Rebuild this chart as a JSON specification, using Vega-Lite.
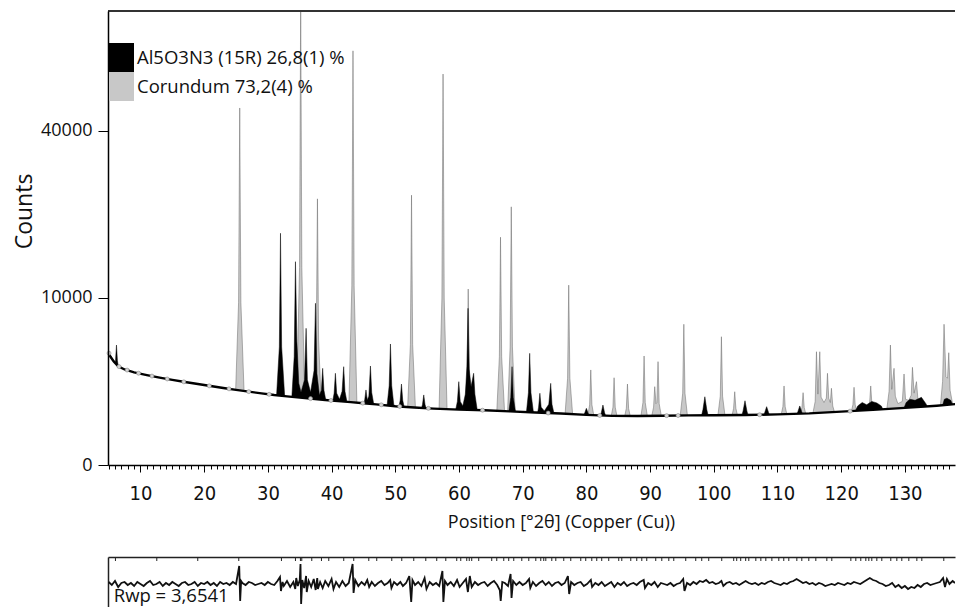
{
"$schema":"https://vega.github.io/schema/vega-lite/v6.json",
"background":"white",
"padding":{"left":13,"top":10,"right":0,"bottom":0},
"bounds":"flush",
"spacing":92,
"config":{"view":{"stroke":null},"font":"Open Sans",
"axis":{"labelFont":"Open Sans","titleFont":"Open Sans","labelColor":"#111","titleColor":"#111","titleFontWeight":"normal","domainColor":"#000","tickColor":"#000","grid":false}},
"datasets":{
"cor":[{"t":4.9,"c":0},
{"t":24.9,"c":1620},{"t":25.4,"c":9500},{"t":25.58,"c":45700},{"t":25.76,"c":9500},{"t":26.3,"c":1580},
{"t":34.5,"c":1310},{"t":34.97,"c":14000},{"t":35.15,"c":78000},{"t":35.33,"c":14000},{"t":35.8,"c":1290},
{"t":37.15,"c":1250},{"t":37.6,"c":5600},{"t":37.78,"c":25400},{"t":37.96,"c":5600},{"t":38.4,"c":1230},
{"t":42.7,"c":1130},{"t":43.18,"c":11500},{"t":43.36,"c":61500},{"t":43.54,"c":11500},{"t":44.0,"c":1110},
{"t":51.9,"c":960},{"t":52.37,"c":5200},{"t":52.55,"c":26100},{"t":52.73,"c":5200},{"t":53.2,"c":950},
{"t":56.85,"c":900},{"t":57.32,"c":10000},{"t":57.5,"c":54800},{"t":57.68,"c":10000},{"t":58.15,"c":900},
{"t":60.8,"c":870},{"t":61.27,"c":2800},{"t":61.45,"c":11100},{"t":61.63,"c":2800},{"t":62.1,"c":870},
{"t":65.9,"c":840},{"t":66.34,"c":4200},{"t":66.52,"c":18600},{"t":66.7,"c":4200},{"t":67.2,"c":835},
{"t":67.6,"c":825},{"t":68.03,"c":5000},{"t":68.21,"c":23900},{"t":68.39,"c":5000},{"t":68.85,"c":820},
{"t":76.6,"c":750},{"t":77.05,"c":2700},{"t":77.23,"c":11600},{"t":77.41,"c":2700},{"t":77.9,"c":740},
{"t":80.1,"c":715},{"t":80.51,"c":1300},{"t":80.69,"c":3240},{"t":80.87,"c":1300},{"t":81.3,"c":710},
{"t":83.75,"c":690},{"t":84.17,"c":1200},{"t":84.35,"c":2730},{"t":84.53,"c":1200},{"t":84.95,"c":690},
{"t":85.85,"c":690},{"t":86.27,"c":1150},{"t":86.45,"c":2350},{"t":86.63,"c":1150},{"t":87.05,"c":690},
{"t":88.45,"c":690},{"t":88.88,"c":1400},{"t":89.06,"c":4260},{"t":89.24,"c":1400},{"t":89.7,"c":690},
{"t":90.1,"c":695},{"t":90.55,"c":1200},{"t":90.73,"c":2200},{"t":90.93,"c":1350},{"t":91.07,"c":1400},{"t":91.25,"c":3830},{"t":91.43,"c":1350},{"t":91.9,"c":700},
{"t":94.65,"c":705},{"t":95.12,"c":1850},{"t":95.3,"c":7100},{"t":95.48,"c":1850},{"t":95.95,"c":705},
{"t":100.55,"c":710},{"t":101.02,"c":1700},{"t":101.2,"c":5900},{"t":101.38,"c":1700},{"t":101.85,"c":715},
{"t":102.7,"c":715},{"t":103.11,"c":1150},{"t":103.29,"c":1925},{"t":103.47,"c":1150},{"t":103.9,"c":715},
{"t":110.4,"c":735},{"t":110.85,"c":1220},{"t":111.03,"c":2240},{"t":111.21,"c":1220},{"t":111.65,"c":740},
{"t":113.4,"c":755},{"t":113.84,"c":1180},{"t":114.02,"c":1875},{"t":114.2,"c":1180},{"t":114.65,"c":760},
{"t":115.4,"c":770},{"t":115.92,"c":1450},{"t":116.12,"c":4600},{"t":116.35,"c":1800},{"t":116.64,"c":4600},{"t":116.85,"c":1650},{"t":117.3,"c":1400},{"t":117.67,"c":1600},{"t":117.85,"c":3015},{"t":118.05,"c":1600},{"t":118.3,"c":1400},{"t":118.47,"c":2110},{"t":118.68,"c":1250},{"t":119.2,"c":800},
{"t":121.4,"c":835},{"t":121.84,"c":1300},{"t":122.02,"c":2165},{"t":122.2,"c":1300},{"t":122.65,"c":840},
{"t":124.0,"c":860},{"t":124.46,"c":1350},{"t":124.64,"c":2240},{"t":124.82,"c":1350},{"t":125.3,"c":870},
{"t":127.05,"c":900},{"t":127.52,"c":1950},{"t":127.73,"c":5160},{"t":127.95,"c":2050},{"t":128.3,"c":3350},{"t":128.5,"c":1700},{"t":128.9,"c":1350},{"t":129.6,"c":1450},{"t":129.87,"c":2970},{"t":130.1,"c":1550},{"t":130.6,"c":1500},{"t":131.0,"c":1750},{"t":131.19,"c":3420},{"t":131.45,"c":1850},{"t":131.82,"c":2490},{"t":132.05,"c":1550},{"t":132.6,"c":960},
{"t":135.5,"c":1020},{"t":135.92,"c":2500},{"t":136.15,"c":7100},{"t":136.45,"c":2800},{"t":136.7,"c":2700},{"t":136.89,"c":4520},{"t":137.1,"c":2000},{"t":137.7,"c":1050},{"t":138,"c":0}],
"aln":[{"t":4.9,"c":0},
{"t":5.7,"c":3040},{"t":6.08,"c":3900},{"t":6.23,"c":5160},{"t":6.38,"c":3900},{"t":6.8,"c":2720},
{"t":31.3,"c":1400},{"t":31.8,"c":5000},{"t":31.98,"c":19250},{"t":32.16,"c":5000},{"t":32.7,"c":1380},
{"t":33.7,"c":1340},{"t":34.13,"c":4200},{"t":34.33,"c":14820},{"t":34.55,"c":5500},{"t":34.85,"c":2400},{"t":35.2,"c":1900},{"t":35.75,"c":2600},{"t":36.0,"c":6700},{"t":36.2,"c":2600},{"t":36.7,"c":1900},{"t":37.25,"c":3200},{"t":37.47,"c":9375},{"t":37.7,"c":3000},{"t":38.1,"c":1750},{"t":38.4,"c":2000},{"t":38.6,"c":3350},{"t":38.8,"c":2000},{"t":39.3,"c":1200},
{"t":40.0,"c":1190},{"t":40.4,"c":1850},{"t":40.6,"c":3015},{"t":40.8,"c":1850},{"t":41.25,"c":1550},{"t":41.65,"c":1950},{"t":41.9,"c":3465},{"t":42.1,"c":1950},{"t":42.6,"c":1150},
{"t":44.8,"c":1095},{"t":45.2,"c":1520},{"t":45.4,"c":2020},{"t":45.6,"c":1520},{"t":45.85,"c":1700},{"t":46.1,"c":3515},{"t":46.3,"c":1880},{"t":46.8,"c":1060},
{"t":48.6,"c":1000},{"t":49.04,"c":2250},{"t":49.24,"c":5250},{"t":49.44,"c":2250},{"t":49.9,"c":990},
{"t":50.4,"c":980},{"t":50.77,"c":1500},{"t":50.97,"c":2350},{"t":51.17,"c":1500},{"t":51.6,"c":970},
{"t":53.9,"c":930},{"t":54.27,"c":1310},{"t":54.47,"c":1760},{"t":54.67,"c":1310},{"t":55.1,"c":920},
{"t":59.3,"c":880},{"t":59.75,"c":1450},{"t":59.97,"c":2490},{"t":60.2,"c":1450},{"t":60.6,"c":1250},{"t":61.0,"c":1800},{"t":61.25,"c":3500},{"t":61.42,"c":8800},{"t":61.6,"c":3300},{"t":61.9,"c":2200},{"t":62.3,"c":3015},{"t":62.5,"c":1800},{"t":63.0,"c":870},
{"t":67.7,"c":825},{"t":68.13,"c":1640},{"t":68.33,"c":3465},{"t":68.53,"c":1640},{"t":69.0,"c":820},
{"t":70.5,"c":800},{"t":70.9,"c":1870},{"t":71.1,"c":4470},{"t":71.3,"c":1870},{"t":71.8,"c":795},
{"t":72.2,"c":790},{"t":72.5,"c":1200},{"t":72.7,"c":1845},{"t":72.9,"c":1200},{"t":73.4,"c":1050},{"t":74.1,"c":1320},{"t":74.4,"c":2390},{"t":74.6,"c":1320},{"t":75.1,"c":770},
{"t":79.3,"c":720},{"t":79.75,"c":980},{"t":80.0,"c":1150},{"t":80.25,"c":980},{"t":80.7,"c":715},
{"t":81.9,"c":700},{"t":82.35,"c":990},{"t":82.6,"c":1290},{"t":82.85,"c":990},{"t":83.3,"c":695},
{"t":97.9,"c":710},{"t":98.3,"c":1100},{"t":98.6,"c":1670},{"t":98.9,"c":1100},{"t":99.3,"c":710},
{"t":104.2,"c":720},{"t":104.6,"c":1050},{"t":104.9,"c":1480},{"t":105.2,"c":1050},{"t":105.6,"c":720},
{"t":107.6,"c":730},{"t":108.0,"c":990},{"t":108.3,"c":1220},{"t":108.6,"c":990},{"t":109.0,"c":735},
{"t":112.8,"c":755},{"t":113.2,"c":1020},{"t":113.5,"c":1250},{"t":113.8,"c":1020},{"t":114.2,"c":760},
{"t":121.8,"c":835},{"t":122.6,"c":1250},{"t":123.3,"c":1400},{"t":124.0,"c":1300},{"t":124.8,"c":1450},{"t":125.6,"c":1380},{"t":126.3,"c":1250},{"t":127.0,"c":890},
{"t":129.5,"c":935},{"t":130.2,"c":1400},{"t":130.8,"c":1550},{"t":131.6,"c":1500},{"t":132.6,"c":1640},{"t":133.3,"c":1350},{"t":134.0,"c":1000},
{"t":135.6,"c":1010},{"t":136.2,"c":1550},{"t":136.6,"c":1600},{"t":137.2,"c":1500},{"t":137.9,"c":1060},{"t":138,"c":0}],
"bg":[{"t":4.9,"c":4600},{"t":5.3,"c":4200},{"t":5.8,"c":3850},{"t":6.5,"c":3500},{"t":7.5,"c":3270},{"t":9,"c":3080},{"t":11,"c":2900},{"t":13,"c":2740},{"t":15,"c":2595},{"t":17,"c":2470},{"t":19,"c":2350},{"t":21,"c":2235},{"t":23,"c":2125},{"t":25,"c":2025},{"t":27,"c":1930},{"t":29,"c":1840},{"t":31,"c":1755},{"t":33,"c":1690},{"t":35,"c":1630},{"t":37,"c":1572},{"t":39,"c":1517},{"t":41,"c":1465},{"t":43,"c":1418},{"t":45,"c":1370},{"t":47,"c":1318},{"t":50,"c":1240},{"t":53,"c":1185},{"t":56,"c":1140},{"t":60,"c":1100},{"t":64,"c":1075},{"t":68,"c":1030},{"t":72,"c":990},{"t":76,"c":950},{"t":80,"c":900},{"t":84,"c":865},{"t":88,"c":862},{"t":92,"c":872},{"t":96,"c":882},{"t":100,"c":888},{"t":105,"c":897},{"t":110,"c":918},{"t":115,"c":955},{"t":120,"c":1020},{"t":125,"c":1090},{"t":130,"c":1170},{"t":135,"c":1260},{"t":138,"c":1330}],
"bgp":[{"t":5.06,"c":4480},{"t":6.63,"c":3470},{"t":7.9,"c":3230},{"t":9.7,"c":3020},{"t":11.8,"c":2835},{"t":14.2,"c":2655},{"t":16.8,"c":2480},{"t":20.8,"c":2245},{"t":23.9,"c":2080},{"t":27.0,"c":1930},{"t":30.2,"c":1790},{"t":36.7,"c":1580},{"t":39.9,"c":1492},{"t":44.9,"c":1372},{"t":47.8,"c":1298},{"t":50.7,"c":1227},{"t":55.2,"c":1152},{"t":63.7,"c":1077},{"t":74.0,"c":970},{"t":82.1,"c":880},{"t":92.6,"c":873},{"t":94.4,"c":878},{"t":107.2,"c":905},{"t":121.4,"c":1040}],
"res":[{"t":5,"d":2},{"t":5.5,"d":-1},{"t":6,"d":3},{"t":6.5,"d":-3},{"t":7,"d":1},{"t":7.5,"d":2},{"t":8,"d":-1},{"t":8.5,"d":1},{"t":9,"d":-2},{"t":9.5,"d":2},{"t":10,"d":0},{"t":10.5,"d":-2},{"t":11,"d":1},{"t":11.5,"d":3},{"t":12,"d":-1},{"t":12.5,"d":0},{"t":13,"d":2},{"t":13.5,"d":-2},{"t":14,"d":1},{"t":14.5,"d":-1},{"t":15,"d":2},{"t":15.5,"d":0},{"t":16,"d":-2},{"t":16.5,"d":1},{"t":17,"d":2},{"t":17.5,"d":-1},{"t":18,"d":0},{"t":18.5,"d":2},{"t":19,"d":-2},{"t":19.5,"d":1},{"t":20,"d":0},{"t":20.5,"d":2},{"t":21,"d":-1},{"t":21.5,"d":1},{"t":22,"d":-2},{"t":22.5,"d":2},{"t":23,"d":0},{"t":23.5,"d":1},{"t":24,"d":-1},{"t":24.5,"d":2},{"t":25,"d":0},
{"t":25.5,"d":18},{"t":25.65,"d":-17},{"t":25.8,"d":3},{"t":26,"d":1},{"t":26.5,"d":-1},{"t":27,"d":2},{"t":27.5,"d":1},{"t":28,"d":-1},{"t":28.5,"d":0},{"t":29,"d":1},{"t":29.5,"d":-1},{"t":30,"d":2},{"t":30.5,"d":0},{"t":31,"d":-1},{"t":31.5,"d":3},{"t":31.9,"d":7},{"t":32.05,"d":-7},{"t":32.3,"d":2},{"t":32.5,"d":-2},{"t":33,"d":3},{"t":33.5,"d":-3},{"t":34,"d":2},{"t":34.3,"d":-5},{"t":34.45,"d":6},{"t":34.7,"d":-2},{"t":35.0,"d":4},{"t":35.12,"d":20},{"t":35.22,"d":-20},{"t":35.4,"d":4},{"t":35.7,"d":-4},{"t":36.0,"d":8},{"t":36.1,"d":-8},{"t":36.4,"d":3},{"t":36.8,"d":-3},{"t":37.2,"d":5},{"t":37.5,"d":-6},{"t":37.75,"d":6},{"t":37.85,"d":-5},{"t":38.2,"d":2},{"t":38.6,"d":-4},{"t":39.0,"d":3},{"t":39.5,"d":-2},{"t":40.0,"d":5},{"t":40.3,"d":-5},{"t":40.7,"d":2},{"t":41.2,"d":-3},{"t":41.7,"d":3},{"t":42.2,"d":-2},{"t":42.7,"d":1},{"t":43.3,"d":20},{"t":43.45,"d":-9},{"t":43.7,"d":4},{"t":44.2,"d":-2},{"t":44.7,"d":2},{"t":45.2,"d":-1},{"t":45.6,"d":4},{"t":45.9,"d":-3},{"t":46.3,"d":2},{"t":46.8,"d":-2},{"t":47.3,"d":1},{"t":47.8,"d":3},{"t":48.3,"d":-1},{"t":48.8,"d":1},{"t":49.2,"d":4},{"t":49.4,"d":-4},{"t":49.8,"d":2},{"t":50.3,"d":-1},{"t":50.8,"d":2},{"t":51.2,"d":-2},{"t":51.7,"d":1},{"t":52.2,"d":8},{"t":52.5,"d":-18},{"t":52.7,"d":4},{"t":53.1,"d":-1},{"t":53.6,"d":2},{"t":54.1,"d":-2},{"t":54.6,"d":6},{"t":54.9,"d":-5},{"t":55.4,"d":2},{"t":55.9,"d":-1},{"t":56.4,"d":1},{"t":56.9,"d":-2},{"t":57.4,"d":13},{"t":57.55,"d":-18},{"t":57.8,"d":3},{"t":58.2,"d":-1},{"t":58.7,"d":2},{"t":59.2,"d":-2},{"t":59.7,"d":4},{"t":60.1,"d":-3},{"t":60.6,"d":1},{"t":61.1,"d":5},{"t":61.4,"d":-8},{"t":61.7,"d":8},{"t":62.0,"d":-3},{"t":62.5,"d":2},{"t":63.0,"d":-1},{"t":63.5,"d":1},{"t":64.0,"d":2},{"t":64.5,"d":-2},{"t":65.0,"d":1},{"t":65.5,"d":3},{"t":66.0,"d":-1},{"t":66.4,"d":-6},{"t":66.55,"d":-17},{"t":66.8,"d":2},{"t":67.2,"d":1},{"t":67.7,"d":-2},{"t":68.1,"d":10},{"t":68.25,"d":-14},{"t":68.5,"d":3},{"t":69.0,"d":-1},{"t":69.5,"d":2},{"t":70.0,"d":-1},{"t":70.5,"d":1},{"t":71.0,"d":5},{"t":71.2,"d":-4},{"t":71.6,"d":2},{"t":72.1,"d":-2},{"t":72.6,"d":1},{"t":73.1,"d":3},{"t":73.6,"d":-1},{"t":74.1,"d":2},{"t":74.6,"d":-2},{"t":75.1,"d":1},{"t":75.6,"d":2},{"t":76.1,"d":-1},{"t":76.6,"d":1},{"t":77.1,"d":8},{"t":77.3,"d":-10},{"t":77.6,"d":2},{"t":78.1,"d":-1},{"t":78.6,"d":1},{"t":79.1,"d":2},{"t":79.6,"d":-2},{"t":80.1,"d":0},{"t":80.7,"d":4},{"t":80.9,"d":-3},{"t":81.4,"d":1},{"t":81.9,"d":-1},{"t":82.4,"d":2},{"t":82.9,"d":-2},{"t":83.4,"d":0},{"t":83.9,"d":2},{"t":84.4,"d":-3},{"t":84.9,"d":1},{"t":85.4,"d":-1},{"t":85.9,"d":2},{"t":86.4,"d":-2},{"t":86.9,"d":0},{"t":87.4,"d":1},{"t":87.9,"d":-1},{"t":88.4,"d":2},{"t":89.0,"d":4},{"t":89.2,"d":-4},{"t":89.7,"d":1},{"t":90.2,"d":-1},{"t":90.7,"d":2},{"t":91.2,"d":-3},{"t":91.7,"d":1},{"t":92.2,"d":0},{"t":92.7,"d":-1},{"t":93.2,"d":1},{"t":93.7,"d":-2},{"t":94.2,"d":0},{"t":94.7,"d":1},{"t":95.2,"d":5},{"t":95.4,"d":-7},{"t":95.8,"d":1},{"t":96.3,"d":-1},{"t":96.8,"d":2},{"t":97.3,"d":0},{"t":97.8,"d":3},{"t":98.3,"d":2},{"t":98.8,"d":4},{"t":99.3,"d":1},{"t":99.8,"d":2},{"t":100.3,"d":0},{"t":100.8,"d":1},{"t":101.2,"d":3},{"t":101.5,"d":-2},{"t":102,"d":1},{"t":102.5,"d":2},{"t":103,"d":0},{"t":103.5,"d":1},{"t":104,"d":-1},{"t":104.5,"d":1},{"t":105,"d":3},{"t":105.5,"d":1},{"t":106,"d":0},{"t":106.5,"d":1},{"t":107,"d":-1},{"t":107.5,"d":1},{"t":108,"d":0},{"t":108.5,"d":2},{"t":109,"d":3},{"t":109.5,"d":1},{"t":110,"d":0},{"t":110.5,"d":-1},{"t":111,"d":1},{"t":111.5,"d":0},{"t":112,"d":2},{"t":112.5,"d":3},{"t":113,"d":5},{"t":113.5,"d":3},{"t":114,"d":1},{"t":114.5,"d":2},{"t":115,"d":0},{"t":115.5,"d":1},{"t":116,"d":-1},{"t":116.5,"d":1},{"t":117,"d":0},{"t":117.5,"d":-2},{"t":118,"d":-1},{"t":118.5,"d":0},{"t":119,"d":-1},{"t":119.5,"d":1},{"t":120,"d":0},{"t":120.5,"d":-1},{"t":121,"d":1},{"t":121.5,"d":0},{"t":122,"d":2},{"t":122.5,"d":1},{"t":123,"d":0},{"t":123.5,"d":2},{"t":124,"d":4},{"t":124.5,"d":6},{"t":125,"d":4},{"t":125.5,"d":3},{"t":126,"d":1},{"t":126.5,"d":0},{"t":127,"d":-2},{"t":127.5,"d":-1},{"t":128,"d":1},{"t":128.5,"d":-3},{"t":129,"d":-1},{"t":129.5,"d":-4},{"t":130,"d":-2},{"t":130.5,"d":-5},{"t":131,"d":-3},{"t":131.5,"d":-4},{"t":132,"d":-1},{"t":132.5,"d":-3},{"t":133,"d":0},{"t":133.5,"d":1},{"t":134,"d":-1},{"t":134.5,"d":0},{"t":135,"d":1},{"t":135.5,"d":2},{"t":136,"d":6},{"t":136.3,"d":-3},{"t":136.6,"d":5},{"t":137,"d":0},{"t":137.5,"d":3},{"t":137.87,"d":1}],
"refl":[{"t":6.07},{"t":12.56},{"t":18.99},{"t":25.43},{"t":32.13},{"t":34.33},{"t":35.11},{"t":35.32},{"t":36.89},{"t":38.41},{"t":39.56},{"t":41.91},{"t":43.48},{"t":45.84},{"t":47.09},{"t":49.45},{"t":51.02},{"t":52.9},{"t":54.79},{"t":56.51},{"t":57.93},{"t":59.65},{"t":60.28},{"t":61.22},{"t":61.61},{"t":62.0},{"t":63.1},{"t":65.14},{"t":65.93},{"t":67.03},{"t":67.81},{"t":68.6},{"t":69.86},{"t":70.96},{"t":72.06},{"t":72.84},{"t":73.31},{"t":73.63},{"t":74.57},{"t":75.2},{"t":76.45},{"t":77.55},{"t":79.12},{"t":79.9},{"t":80.85},{"t":81.63},{"t":82.41},{"t":83.51},{"t":85.08},{"t":85.56},{"t":86.97},{"t":87.91},{"t":88.7},{"t":89.48},{"t":90.89},{"t":91.84},{"t":92.94},{"t":93.72},{"t":95.6},{"t":97.17},{"t":98.11},{"t":99.21},{"t":101.25},{"t":103.13},{"t":103.6},{"t":104.23},{"t":105.01},{"t":105.5},{"t":106.6},{"t":107.39},{"t":108.17},{"t":109.12},{"t":110.21},{"t":110.99},{"t":111.78},{"t":113.04},{"t":113.82},{"t":114.92},{"t":116.02},{"t":117.75},{"t":118.53},{"t":121.52},{"t":122.3},{"t":123.08},{"t":123.87},{"t":124.34},{"t":124.81},{"t":125.6},{"t":126.38},{"t":127.79},{"t":128.74},{"t":129.52},{"t":130.62},{"t":131.88},{"t":132.66},{"t":136.11}]
},
"vconcat":[
{"width":847,"height":454,
"layer":[
{"data":{"name":"cor"},
"mark":{"type":"area","clip":true,"opacity":1,"stroke":"#666","strokeWidth":0.5},
"encoding":{
"x":{"field":"t","type":"quantitative","scale":{"domain":[4.9,137.87],"nice":false,"zero":false},
"axis":{"orient":"bottom","title":"Position [°2θ] (Copper (Cu))","titleFontSize":18,"titleX":453,"titlePadding":10,"tickCount":133,"format":"d","labelExpr":"datum.value % 10 === 0 ? datum.label : ''","tickSize":{"condition":{"test":"datum.value % 10 === 0","value":7},"value":4},"labelFont":"Liberation Sans Narrow, DejaVu Sans Condensed, Open Sans","labelFontSize":20,"labelPadding":11,"labelOverlap":false,"labelFlush":false,"labelBound":false,"domainWidth":1.5,"zindex":1}},
"y":{"field":"c","type":"quantitative","scale":{"type":"sqrt","domain":[0,73900],"nice":false},
"axis":{"orient":"left","values":[0,10000,40000],"format":"d","title":"Counts","titleFontSize":23,"titleAngle":-90,"titleX":-84,"titleY":200,"titleAlign":"center","titleBaseline":"middle","labelFontSize":18,"tickSize":10,"labelPadding":6,"domainWidth":1.5,"zindex":1}},
"color":{"datum":"Corundum 73,2(4) %","type":"nominal","scale":{"domain":["Al5O3N3 (15R) 26,8(1) %","Corundum 73,2(4) %"],"range":["#000000","#c8c8c8"]},
"legend":{"orient":"none","legendX":1,"legendY":34,"title":null,"symbolType":"M-1,-1.16H1V1.16H-1Z","symbolSize":625,"symbolStrokeWidth":0,"symbolOpacity":1,"labelFontSize":18.5,"labelFont":"Open Sans","labelColor":"#111","labelOffset":3,"rowPadding":0,"labelLimit":400,"padding":0}}}},
{"data":{"name":"aln"},
"mark":{"type":"area","clip":true,"opacity":1,"stroke":"#000","strokeWidth":0.5},
"encoding":{
"x":{"field":"t","type":"quantitative","scale":{"domain":[4.9,137.87],"nice":false,"zero":false}},
"y":{"field":"c","type":"quantitative","scale":{"type":"sqrt","domain":[0,73900],"nice":false}},
"color":{"datum":"Al5O3N3 (15R) 26,8(1) %","type":"nominal","scale":{"domain":["Al5O3N3 (15R) 26,8(1) %","Corundum 73,2(4) %"],"range":["#000000","#c8c8c8"]}}}},
{"data":{"name":"bg"},
"mark":{"type":"area","fill":"#ffffff","opacity":1,"clip":true},
"encoding":{
"x":{"field":"t","type":"quantitative","scale":{"domain":[4.9,137.87],"nice":false,"zero":false}},
"y":{"field":"c","type":"quantitative","scale":{"type":"sqrt","domain":[0,73900],"nice":false}}}},
{"data":{"name":"bg"},
"mark":{"type":"line","color":"#000","strokeWidth":2.4,"clip":true},
"encoding":{
"x":{"field":"t","type":"quantitative","scale":{"domain":[4.9,137.87],"nice":false,"zero":false}},
"y":{"field":"c","type":"quantitative","scale":{"type":"sqrt","domain":[0,73900],"nice":false}}}},
{"data":{"name":"bgp"},
"mark":{"type":"point","filled":true,"fill":"#d4d4d4","stroke":"#888","strokeWidth":0.6,"size":16,"opacity":1},
"encoding":{
"x":{"field":"t","type":"quantitative","scale":{"domain":[4.9,137.87],"nice":false,"zero":false}},
"y":{"field":"c","type":"quantitative","scale":{"type":"sqrt","domain":[0,73900],"nice":false}}}},
{"data":{"values":[{"k":1}]},
"mark":{"type":"rule","color":"#333","strokeWidth":2},
"encoding":{
"y":{"datum":73900,"type":"quantitative","scale":{"type":"sqrt","domain":[0,73900],"nice":false}}}}
]},
{"width":847,"height":50,
"layer":[
{"data":{"name":"res"},
"mark":{"type":"line","color":"#111","strokeWidth":1.8,"clip":true},
"encoding":{
"x":{"field":"t","type":"quantitative","scale":{"domain":[4.9,137.87],"nice":false,"zero":false},
"axis":{"orient":"top","labels":false,"ticks":false,"title":null,"domainWidth":1.5,"domainColor":"#222"}},
"y":{"field":"d","type":"quantitative","scale":{"domain":[-23,27],"nice":false,"zero":false},
"axis":{"orient":"left","labels":false,"ticks":false,"title":null,"domainWidth":1.5,"domainColor":"#222"}}}},
{"data":{"name":"refl"},
"mark":{"type":"rule","color":"#222","strokeWidth":1},
"encoding":{
"x":{"field":"t","type":"quantitative","scale":{"domain":[4.9,137.87],"nice":false,"zero":false}},
"y":{"datum":27,"type":"quantitative","scale":{"domain":[-23,27],"nice":false,"zero":false}},
"y2":{"datum":23}}},
{"data":{"values":[{"label":"Rwp = 3,6541"}]},
"mark":{"type":"text","align":"left","baseline":"alphabetic","fontSize":18.5,"font":"Open Sans","color":"#111"},
"encoding":{
"text":{"field":"label","type":"nominal"},
"x":{"datum":5.8,"type":"quantitative","scale":{"domain":[4.9,137.87],"nice":false,"zero":false}},
"y":{"datum":-18,"type":"quantitative","scale":{"domain":[-23,27],"nice":false,"zero":false}}}}
]}
]
}
